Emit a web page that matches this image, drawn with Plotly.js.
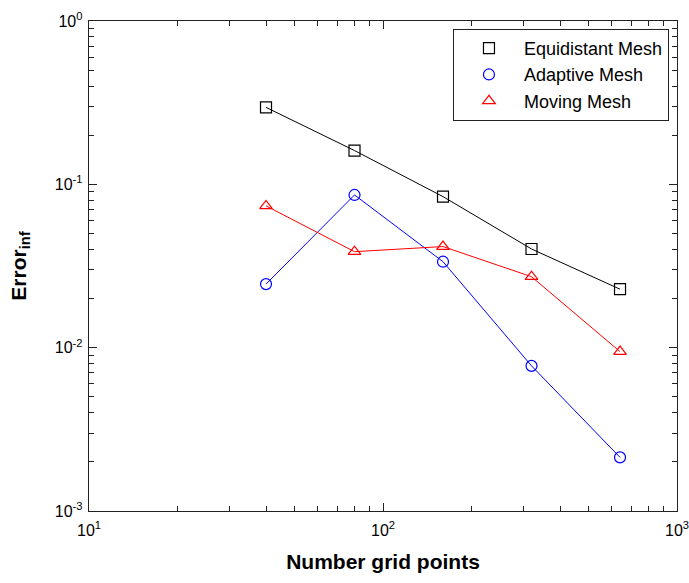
<!DOCTYPE html>
<html>
<head>
<meta charset="utf-8">
<script src="https://cdn.plot.ly/plotly-3.0.1.min.js"></script>
<style>html,body{margin:0;padding:0;background:#fff;}#chart{width:689px;height:583px;}</style>
</head>
<body>
<div id="chart"></div>
<script>
// Data
const gridPoints = [40, 80, 160, 320, 640];
const equidistantErr = [0.296, 0.161, 0.0841, 0.0402, 0.0228];
const adaptiveErr = [0.0245, 0.0861, 0.0336, 0.00774, 0.00213];
const movingErr = [0.0738, 0.0387, 0.0416, 0.0272, 0.00946];
const seriesNames = ["Equidistant Mesh", "Adaptive Mesh", "Moving Mesh"];
const xTickVals = [10, 100, 1000];
const xTickText = ["10<sup>1</sup>", "10<sup>2</sup>", "10<sup>3</sup>"];
const yTickVals = [0.001, 0.01, 0.1, 1];
const yTickText = ["10<sup>-3</sup>", "10<sup>-2</sup>", "10<sup>-1</sup>", "10<sup>0</sup>"];

const colors = ["#000000", "#0000ff", "#ff0000"];
const symbols = ["square-open", "circle-open", "triangle-up-open"];
const allY = [equidistantErr, adaptiveErr, movingErr];

// minor tick positions (2..9 of each decade)
function minorTicks(majors) {
  const out = [];
  for (let k = 0; k < majors.length - 1; k++)
    for (let m = 2; m <= 9; m++) out.push(majors[k] * m);
  return out;
}
const xMinor = minorTicks(xTickVals);
const yMinor = minorTicks(yTickVals);

const traces = [];
allY.forEach((ys, i) => {
  traces.push({
    x: gridPoints, y: ys, type: "scatter", mode: "lines+markers",
    line: {color: colors[i], width: 1},
    marker: {symbol: symbols[i], size: 11, color: colors[i], line: {color: colors[i], width: 1.2}},
    showlegend: false, hoverinfo: "skip"
  });
});
allY.forEach((ys, i) => {
  traces.push({
    x: [null], y: [null], type: "scatter", mode: "markers",
    name: seriesNames[i], legendgroup: "g" + i,
    marker: {symbol: symbols[i], size: 11, color: colors[i], line: {color: colors[i], width: 1.2}}
  });
});
// invisible trace to activate the mirrored (top/right) tick axes
traces.push({x: [null], y: [null], xaxis: "x2", yaxis: "y2", type: "scatter", mode: "markers", showlegend: false, hoverinfo: "skip"});

const fontFam = "Liberation Sans, Arial, Helvetica, sans-serif";
function axisBase(minorVals) {
  return {
    type: "log", showgrid: false, zeroline: false,
    showline: true, linecolor: "#222", linewidth: 1.3,
    ticks: "inside", ticklen: 8, tickwidth: 1, tickcolor: "#222",
    minor: {tickmode: "array", tickvals: minorVals, ticks: "inside", ticklen: 5, tickwidth: 1, tickcolor: "#222", showgrid: false},
    tickfont: {family: fontFam, size: 16, color: "#000"},
    ticklabeloverflow: "allow"
  };
}

const layout = {
  width: 689, height: 583,
  margin: {l: 89, r: 12, t: 21, b: 72},
  paper_bgcolor: "#fff", plot_bgcolor: "#fff",
  font: {family: fontFam, color: "#000"},
  xaxis: Object.assign(axisBase(xMinor), {
    range: [1, 3], tickmode: "array", tickvals: xTickVals, ticktext: xTickText,
    ticklabelstandoff: 4,
    title: {text: "<b>Number grid points</b>", font: {family: fontFam, size: 21, color: "#000"}, standoff: 16}
  }),
  yaxis: Object.assign(axisBase(yMinor), {
    range: [-3, 0], tickmode: "array", tickvals: yTickVals, ticktext: yTickText,
    ticklabelstandoff: 2,
    title: {text: "<b>Error<sub>inf</sub></b>", font: {family: fontFam, size: 21, color: "#000"}, standoff: 22}
  }),
  xaxis2: Object.assign(axisBase(xMinor), {
    range: [1, 3], tickmode: "array", tickvals: xTickVals, showticklabels: false,
    overlaying: "x", side: "top", anchor: "y2"
  }),
  yaxis2: Object.assign(axisBase(yMinor), {
    range: [-3, 0], tickmode: "array", tickvals: yTickVals, showticklabels: false,
    overlaying: "y", side: "right", anchor: "x2"
  }),
  legend: {
    x: 0.619, y: 0.984, xanchor: "left", yanchor: "top",
    bgcolor: "#fff", bordercolor: "#222", borderwidth: 1,
    font: {family: fontFam, size: 18, color: "#000"},
    traceorder: "grouped", tracegroupgap: 0, itemwidth: 60
  },
  showlegend: true
};

Plotly.newPlot("chart", traces, layout, {staticPlot: true, displayModeBar: false});
</script>
</body>
</html>
